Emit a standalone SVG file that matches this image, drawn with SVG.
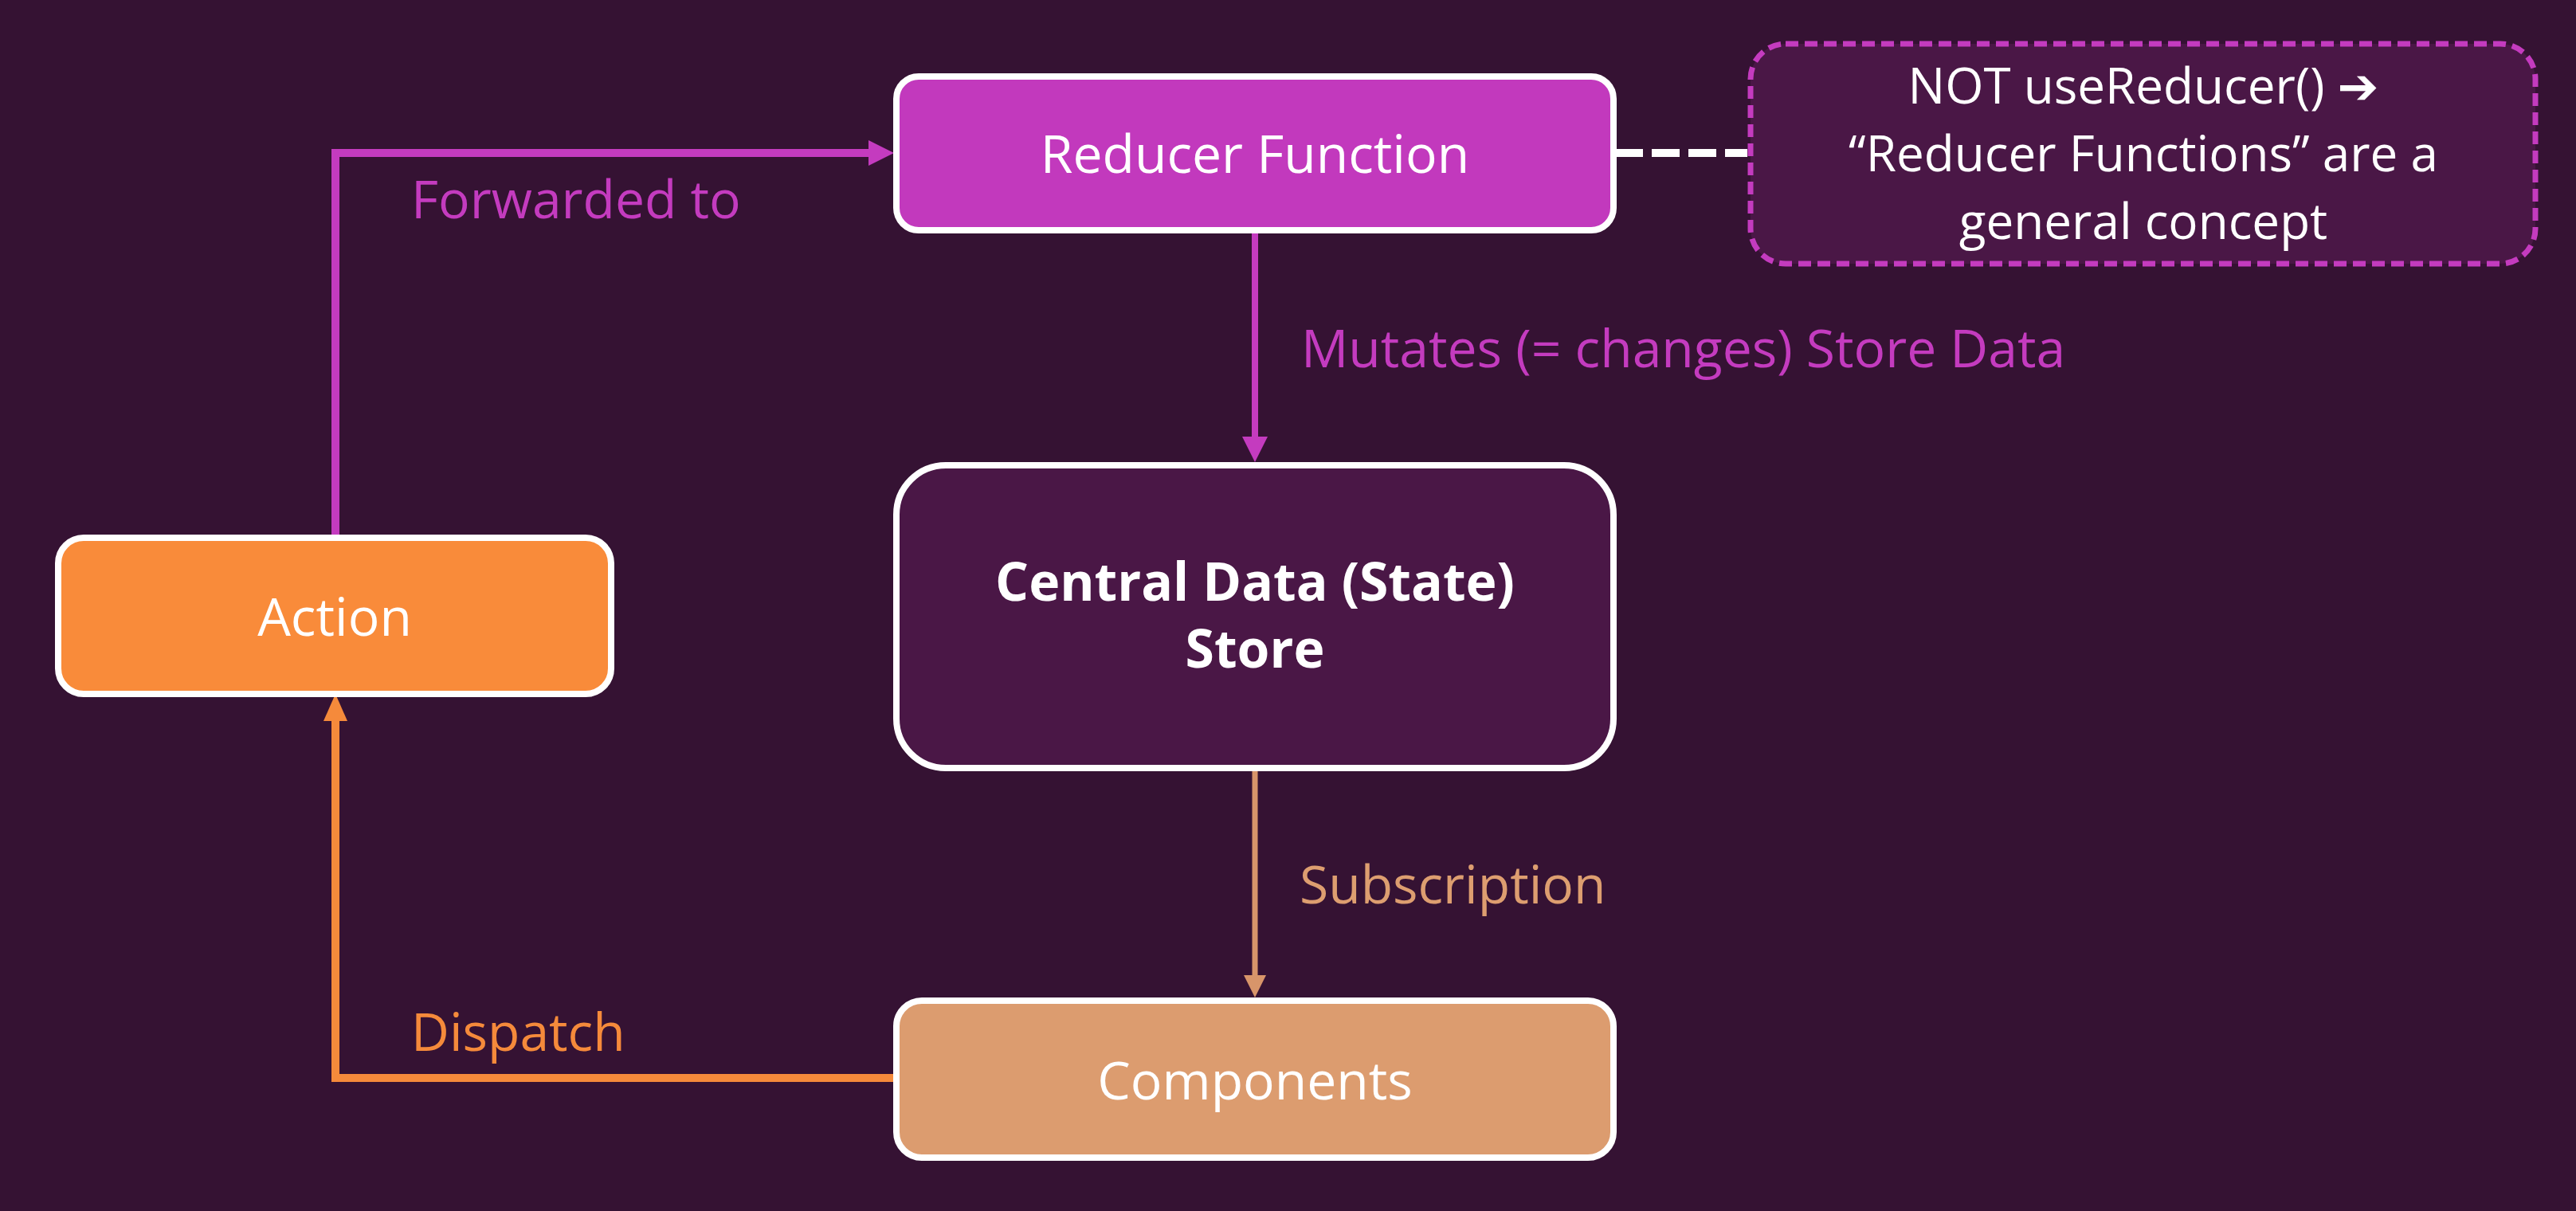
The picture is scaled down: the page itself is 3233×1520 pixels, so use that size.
<svg xmlns="http://www.w3.org/2000/svg" width="3233" height="1520" viewBox="0 0 3233 1520">
<defs>
<style>
.box{stroke:#ffffff;stroke-width:8}
.t{font-family:"Open Sans","Liberation Sans","DejaVu Sans",sans-serif;font-size:66px;text-anchor:middle;fill:#ffffff}
.n{font-size:62px}
.b{font-weight:700}
.arr{font-family:"DejaVu Sans",sans-serif;font-weight:700}
.lbl{font-family:"Open Sans","Liberation Sans",sans-serif;font-size:66px}
.conn{fill:none;stroke-linejoin:miter}
</style>
<marker id="mMag" markerUnits="userSpaceOnUse" orient="auto" markerWidth="40" markerHeight="40" refX="0" refY="0" overflow="visible"><path d="M0,-16 L32,0 L0,16 z" fill="#c43bbf"/></marker>
<marker id="mOrg" markerUnits="userSpaceOnUse" orient="auto" markerWidth="40" markerHeight="40" refX="0" refY="0" overflow="visible"><path d="M0,-15 L34,0 L0,15 z" fill="#f58a3b"/></marker>
<marker id="mTan" markerUnits="userSpaceOnUse" orient="auto" markerWidth="40" markerHeight="40" refX="0" refY="0" overflow="visible"><path d="M0,-14 L28,0 L0,14 z" fill="#d8956a"/></marker>
</defs>
<rect x="0" y="0" width="3233" height="1520" fill="#351233"/>

<g id="connectors">
<path class="conn" d="M421,671 V192 H1090" stroke="#c43bbf" stroke-width="10" marker-end="url(#mMag)"/>
<path class="conn" d="M2027,192 H2193" stroke="#ffffff" stroke-width="10" stroke-dasharray="35 11"/>
<path class="conn" d="M1575,293 V548" stroke="#c43bbf" stroke-width="8" marker-end="url(#mMag)"/>
<path class="conn" d="M1575,968 V1224" stroke="#d8956a" stroke-width="7" marker-end="url(#mTan)"/>
<path class="conn" d="M1122,1353 H421 V905" stroke="#f58a3b" stroke-width="10" marker-end="url(#mOrg)"/>
<text class="lbl" x="516" y="274" fill="#c43bbf">Forwarded to</text>
<text class="lbl" x="1633" y="461" fill="#c43bbf">Mutates (= changes) Store Data</text>
<text class="lbl" x="1631" y="1134" fill="#dd9e70">Subscription</text>
<text class="lbl" x="516" y="1319" fill="#f58a3b">Dispatch</text>
</g>

<g id="reducer">
<rect class="box" x="1125" y="96" width="900" height="193" rx="28" fill="#c239bd"/>
<text class="t" x="1575" y="217">Reducer Function</text>
</g>

<g id="note">
<rect x="2197" y="55" width="985" height="276" rx="44" fill="#4a1746" stroke="#c43bbf" stroke-width="7" stroke-dasharray="16 8"/>
<text class="t n" x="2690" y="130">NOT useReducer() <tspan class="arr">➔</tspan></text>
<text class="t n" x="2690" y="215">“Reducer Functions” are a</text>
<text class="t n" x="2690" y="300">general concept</text>
</g>

<g id="store">
<rect class="box" x="1125" y="584" width="900" height="380" rx="62" fill="#4a1746"/>
<text class="t b" x="1575" y="754">Central Data (State)</text>
<text class="t b" x="1575" y="838">Store</text>
</g>

<g id="action">
<rect class="box" x="73" y="675" width="694" height="196" rx="32" fill="#f98b3a"/>
<text class="t" x="420" y="798">Action</text>
</g>

<g id="components">
<rect class="box" x="1125" y="1256" width="900" height="197" rx="32" fill="#dc9c6f"/>
<text class="t" x="1575" y="1380">Components</text>
</g>
</svg>
